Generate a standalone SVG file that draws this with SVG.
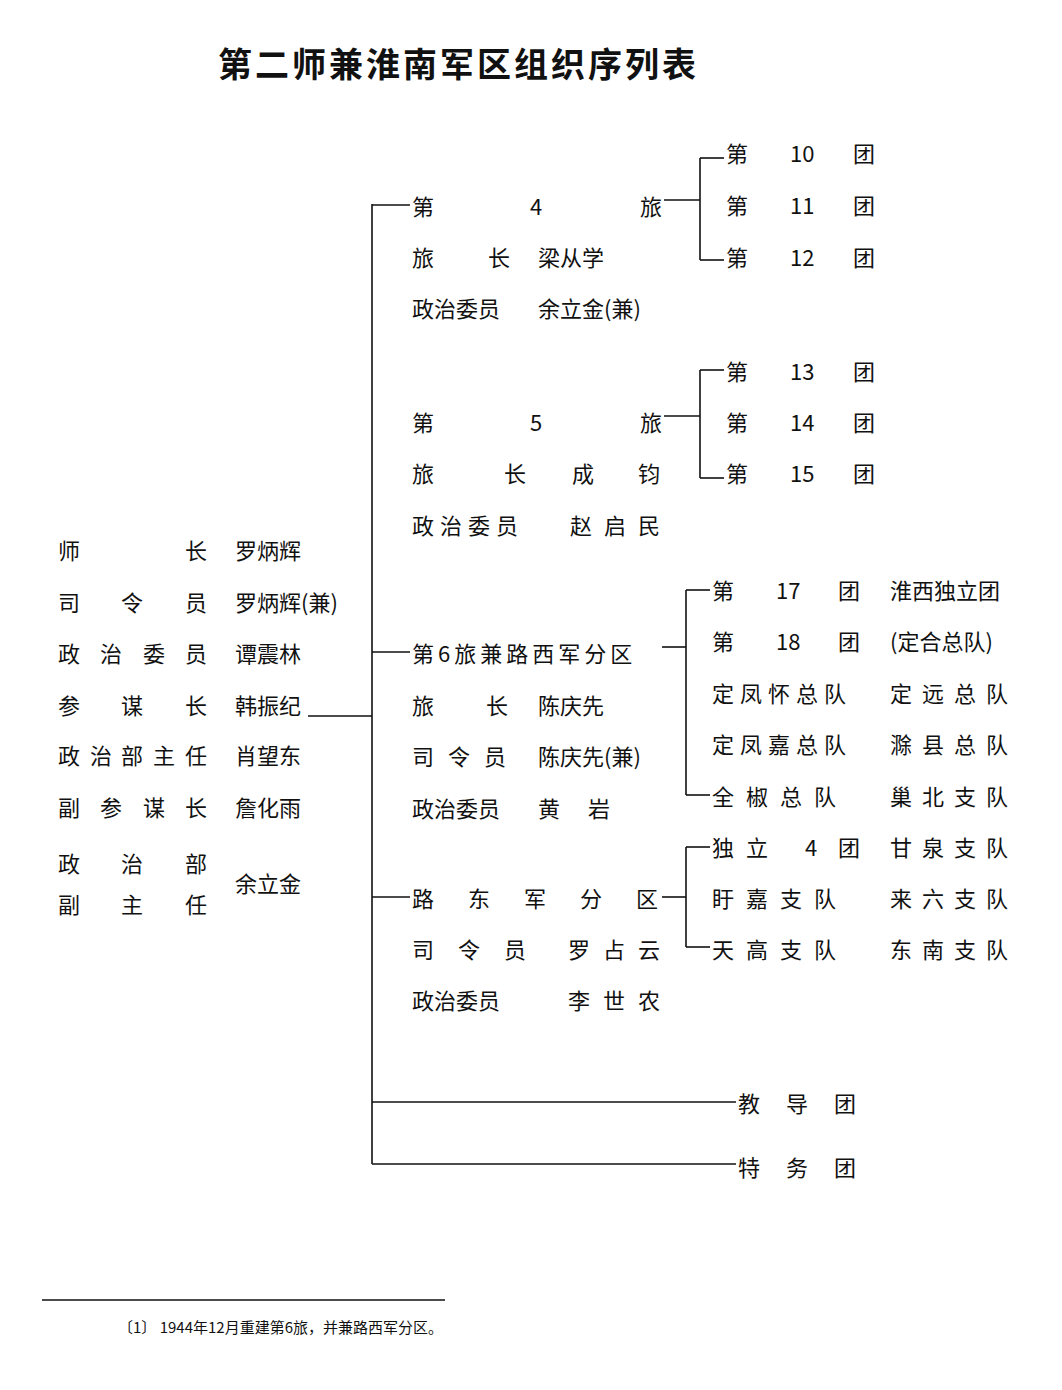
<svg xmlns="http://www.w3.org/2000/svg" width="1062" height="1390" viewBox="0 0 1062 1390">
<style>
text{font-family:"Noto Sans CJK SC","Liberation Serif",serif;font-size:22px;fill:#111;dominant-baseline:central}
.t{font-size:34px;font-weight:bold;letter-spacing:3px}
.f{font-size:15px}
line{stroke:#111;stroke-width:1.6}
</style>
<rect width="1062" height="1390" fill="#fff"/>
<text class="t" x="218" y="62">第二师兼淮南军区组织序列表</text>
<g id="connectors">
<line x1="308" y1="716" x2="372" y2="716"/>
<line x1="372" y1="204" x2="372" y2="1164"/>
<line x1="372" y1="205" x2="410" y2="205"/>
<line x1="372" y1="652" x2="410" y2="652"/>
<line x1="372" y1="897" x2="410" y2="897"/>
<line x1="372" y1="1102" x2="736" y2="1102"/>
<line x1="372" y1="1164" x2="736" y2="1164"/>
<line x1="664" y1="200" x2="700" y2="200"/>
<line x1="700" y1="158" x2="700" y2="260"/>
<line x1="700" y1="158" x2="724" y2="158"/>
<line x1="700" y1="260" x2="724" y2="260"/>
<line x1="664" y1="416" x2="700" y2="416"/>
<line x1="700" y1="370" x2="700" y2="478"/>
<line x1="700" y1="370" x2="724" y2="370"/>
<line x1="700" y1="478" x2="724" y2="478"/>
<line x1="662" y1="647" x2="686" y2="647"/>
<line x1="686" y1="590" x2="686" y2="795"/>
<line x1="686" y1="590" x2="710" y2="590"/>
<line x1="686" y1="795" x2="710" y2="795"/>
<line x1="662" y1="897" x2="686" y2="897"/>
<line x1="686" y1="847" x2="686" y2="947"/>
<line x1="686" y1="847" x2="710" y2="847"/>
<line x1="686" y1="947" x2="710" y2="947"/>
<line x1="42" y1="1300" x2="445" y2="1300"/>
</g>
<g id="hq">
<text x="58" y="549">师</text><text x="185" y="549">长</text><text x="235" y="549">罗炳辉</text>
<text x="58" y="601">司</text><text x="121" y="601">令</text><text x="185" y="601">员</text><text x="235" y="601">罗炳辉(兼)</text>
<text x="58" y="652">政</text><text x="100" y="652">治</text><text x="143" y="652">委</text><text x="185" y="652">员</text><text x="235" y="652">谭震林</text>
<text x="58" y="704">参</text><text x="121" y="704">谋</text><text x="185" y="704">长</text><text x="235" y="704">韩振纪</text>
<text x="58" y="754">政</text><text x="90" y="754">治</text><text x="121" y="754">部</text><text x="153" y="754">主</text><text x="185" y="754">任</text><text x="235" y="754">肖望东</text>
<text x="58" y="806">副</text><text x="100" y="806">参</text><text x="143" y="806">谋</text><text x="185" y="806">长</text><text x="235" y="806">詹化雨</text>
<text x="58" y="862">政</text><text x="121" y="862">治</text><text x="185" y="862">部</text>
<text x="58" y="903">副</text><text x="121" y="903">主</text><text x="185" y="903">任</text><text x="235" y="882">余立金</text>
</g>
<g id="b4">
<text x="412" y="205">第</text><text x="530" y="205">4</text><text x="640" y="205">旅</text>
<text x="412" y="256">旅</text><text x="488" y="256">长</text><text x="538" y="256">梁从学</text>
<text x="412" y="307">政治委员</text><text x="538" y="307">余立金(兼)</text>
</g>
<g id="r4">
<text x="726" y="152">第</text><text x="790" y="152">10</text><text x="853" y="152">团</text>
<text x="726" y="204">第</text><text x="790" y="204">11</text><text x="853" y="204">团</text>
<text x="726" y="256">第</text><text x="790" y="256">12</text><text x="853" y="256">团</text>
</g>
<g id="b5">
<text x="412" y="421">第</text><text x="530" y="421">5</text><text x="640" y="421">旅</text>
<text x="412" y="472">旅</text><text x="504" y="472">长</text><text x="572" y="472">成</text><text x="638" y="472">钧</text>
<text x="412" y="524">政</text><text x="440" y="524">治</text><text x="468" y="524">委</text><text x="496" y="524">员</text>
<text x="570" y="524">赵</text><text x="604" y="524">启</text><text x="638" y="524">民</text>
</g>
<g id="r5">
<text x="726" y="370">第</text><text x="790" y="370">13</text><text x="853" y="370">团</text>
<text x="726" y="421">第</text><text x="790" y="421">14</text><text x="853" y="421">团</text>
<text x="726" y="472">第</text><text x="790" y="472">15</text><text x="853" y="472">团</text>
</g>
<g id="b6">
<text x="412" y="652" letter-spacing="4">第6旅兼路西军分区</text>
<text x="412" y="704">旅</text><text x="486" y="704">长</text><text x="538" y="704">陈庆先</text>
<text x="412" y="755">司</text><text x="448" y="755">令</text><text x="484" y="755">员</text><text x="538" y="755">陈庆先(兼)</text>
<text x="412" y="807">政治委员</text><text x="538" y="807">黄</text><text x="588" y="807">岩</text>
</g>
<g id="r6">
<text x="712" y="589">第</text><text x="776" y="589">17</text><text x="838" y="589">团</text><text x="890" y="589">淮西独立团</text>
<text x="712" y="640">第</text><text x="776" y="640">18</text><text x="838" y="640">团</text><text x="890" y="640">(定合总队)</text>
<text x="712" y="692" letter-spacing="6">定凤怀总队</text><text x="890" y="692" letter-spacing="10">定远总队</text>
<text x="712" y="743" letter-spacing="6">定凤嘉总队</text><text x="890" y="743" letter-spacing="10">滁县总队</text>
<text x="712" y="795" letter-spacing="12">全椒总队</text><text x="890" y="795" letter-spacing="10">巢北支队</text>
</g>
<g id="ld">
<text x="412" y="897" letter-spacing="34">路东军分区</text>
<text x="412" y="948">司</text><text x="458" y="948">令</text><text x="504" y="948">员</text>
<text x="568" y="948">罗</text><text x="603" y="948">占</text><text x="638" y="948">云</text>
<text x="412" y="999">政治委员</text>
<text x="568" y="999">李</text><text x="603" y="999">世</text><text x="638" y="999">农</text>
</g>
<g id="rld">
<text x="712" y="846" letter-spacing="12">独立</text><text x="805" y="846">4</text><text x="838" y="846">团</text><text x="890" y="846" letter-spacing="10">甘泉支队</text>
<text x="712" y="897" letter-spacing="12">盱嘉支队</text><text x="890" y="897" letter-spacing="10">来六支队</text>
<text x="712" y="948" letter-spacing="12">天高支队</text><text x="890" y="948" letter-spacing="10">东南支队</text>
</g>
<g id="jd"><text x="738" y="1102" letter-spacing="26">教导团</text></g>
<g id="tw"><text x="738" y="1166" letter-spacing="26">特务团</text></g>
<text class="f" x="118" y="1326">〔1〕  1944年12月重建第6旅，并兼路西军分区。</text>
</svg>
